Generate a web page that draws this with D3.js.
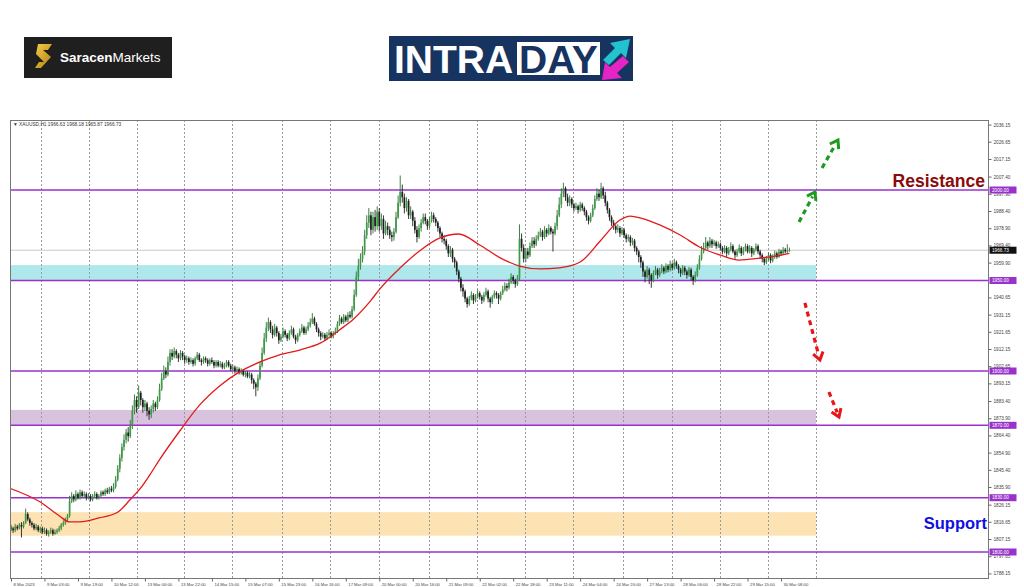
<!DOCTYPE html>
<html><head><meta charset="utf-8">
<script src="https://cdn.jsdelivr.net/npm/d3@7"></script>
<style>html,body{margin:0;padding:0;background:#fff;}svg{display:block}</style>
</head><body>
<svg id="c" width="1024" height="587"></svg>
<script>
// ---------------- DATA (XAUUSD H1, bar index 0..372) ----------------
const opens = [
1813.5,1813,1812,1814,1813,1815,1814,1816,1821,1818,
1816,1815,1813,1814,1812,1813,1811,1812,1810,1811,
1812,1810,1811,1812,1813,1815,1816,1818,1820,1828,
1831,1829,1832,1830,1833,1831,1832,1830,1831,1829,
1831,1832,1830,1831,1833,1832,1834,1833,1835,1834,
1836,1840,1846,1852,1858,1862,1866,1864,1870,1878,
1884,1880,1888,1884,1880,1882,1878,1876,1879,1882,
1880,1884,1890,1896,1900,1898,1905,1910,1908,1911,
1909,1907,1910,1908,1906,1907,1905,1906,1904,1907,
1909,1906,1905,1907,1906,1904,1906,1905,1903,1905,
1903,1904,1902,1903,1905,1903,1901,1902,1900,1901,
1899,1900,1898,1899,1897,1898,1895,1893,1891,1896,
1903,1910,1918,1924,1927,1923,1920,1924,1921,1917,
1919,1922,1920,1918,1921,1923,1919,1917,1920,1922,
1924,1921,1923,1925,1927,1929,1926,1923,1921,1919,
1920,1918,1920,1921,1919,1921,1922,1926,1929,1927,
1930,1928,1931,1930,1934,1942,1952,1958,1962,1966,
1975,1982,1986,1978,1985,1980,1988,1980,1984,1976,
1980,1978,1975,1974,1977,1985,1993,1999,1996,1990,
1994,1986,1988,1983,1978,1974,1979,1982,1985,1983,
1980,1983,1986,1984,1982,1979,1976,1973,1972,1969,
1965,1967,1962,1960,1955,1951,1946,1944,1940,1937,
1940,1942,1939,1941,1943,1941,1939,1942,1944,1940,
1938,1941,1943,1942,1940,1943,1945,1947,1946,1949,
1952,1950,1948,1951,1973,1968,1962,1966,1964,1969,
1972,1970,1973,1975,1977,1974,1978,1976,1979,1977,
1976,1980,1986,1992,1998,2001,1996,1993,1995,1992,
1990,1991,1989,1992,1990,1988,1985,1983,1986,1990,
1995,1998,1996,2001,1997,1993,1989,1985,1982,1980,
1978,1979,1976,1978,1975,1973,1974,1971,1972,1968,
1966,1963,1960,1955,1952,1956,1953,1950,1954,1956,
1953,1955,1957,1955,1958,1956,1959,1957,1960,1958,
1956,1954,1957,1955,1953,1956,1952,1950,1953,1957,
1962,1966,1968,1971,1969,1972,1970,1971,1969,1970,
1968,1966,1968,1965,1967,1969,1966,1964,1966,1968,
1965,1967,1969,1966,1968,1965,1967,1969,1966,1964,
1962,1960,1962,1964,1961,1963,1965,1963,1966,1965,
1967,1966,1966.63];
const highs = [
1815,1814,1815.5,1815,1816,1816.5,1817,1824,1822,1819,
1817,1816,1815.5,1815,1814,1814,1813.5,1813,1812,1813.5,
1813,1812.5,1813,1814.5,1816,1817.5,1819,1821,1831,1833,
1832,1834,1833,1834.5,1834,1833.5,1833,1832.5,1832,1832,
1833.5,1833,1832,1834,1834,1835,1835.5,1836,1836.5,1838,
1842,1848,1854,1860,1865,1868,1869,1873,1881,1887,
1886,1892,1889,1885,1884,1883,1880,1881,1884,1883,
1886,1893,1899,1903,1902,1908,1912,1912,1913,1912,
1910,1911.5,1911,1909,1908.5,1908,1907.5,1907,1908,1910.5,
1910,1907,1908,1908,1907,1907,1907.5,1906,1906,1906,
1905.5,1905,1904.5,1906,1906,1904,1903.5,1903,1902.5,1902,
1901.5,1901,1900,1900,1899.5,1899,1896,1894,1898,1905,
1913,1921,1927,1929.5,1928,1925,1926,1925,1922,1920.5,
1924,1923,1921,1922.5,1925,1924,1920,1921,1923.5,1926,
1925,1924.5,1927,1929,1932,1930,1927,1924,1922,1921.5,
1921,1921.5,1923,1922,1922,1924,1927.5,1931,1930,1931.5,
1931,1932.5,1933,1936,1945,1955,1962,1965,1969,1978,
1986,1990,1988,1988,1989,1991,1990,1987,1986,1983,
1982,1980,1977,1979,1988,1997,2008,2003,1998,1996,
1995,1991,1989,1985,1980,1981,1984,1987,1987,1984,
1985,1988,1987.5,1985,1983,1980,1977,1975,1973,1970,
1969,1968,1963,1961,1956,1952,1948,1945,1941,1941.5,
1944,1943,1942.5,1945,1944,1942,1943.5,1946,1945,1941,
1942,1944.5,1944,1943,1944,1947,1949,1948.5,1951,1954,
1953,1951,1953,1981,1976,1970,1968,1968,1971,1974,
1974,1975,1977,1979,1978,1980,1979,1981,1980,1978.5,
1982,1989,1996,2001,2004,2002,1998,1997,1996,1993,
1993,1992,1993.5,1993,1991,1989,1986,1987.5,1992,1997,
2001,2000,2004,2002,1999,1994,1990,1986,1983.5,1981,
1981,1980,1979.5,1979,1976,1975.5,1975,1973.5,1973,1969,
1967,1964,1961,1956,1958,1957,1954,1955.5,1958,1957,
1957,1959,1958,1959.5,1959,1961,1960,1962,1961,1959,
1957,1958.5,1958,1956,1957.5,1957,1953,1955,1959,1964,
1969,1971,1974,1972,1974,1973,1972.5,1972,1971.5,1971,
1969,1969.5,1969,1968.5,1971,1970,1967,1967.5,1970,1969,
1968.5,1970.5,1970,1969.5,1969,1968,1970.5,1970,1967,1965,
1963,1963.5,1965.5,1965,1964.5,1966.5,1966,1967.5,1967,1968.5,
1968,1970,1968.18];
const lows = [
1811.5,1810.5,1811,1812,1812.5,1808,1813,1815.5,1817,1814.5,
1813.5,1812,1812,1811,1810.5,1810,1810,1809,1808.5,1810,
1809,1809.5,1810,1811,1812,1814,1815,1817,1819,1827,
1827.5,1828,1829,1829,1830,1830,1828.5,1829,1828,1828,
1830,1829,1829,1830,1831,1831,1832,1832,1833,1833,
1835,1839,1844,1850,1856,1860,1861,1863,1868,1876,
1877,1879,1881,1877,1878,1875,1873,1874,1877,1878,
1879,1883,1889,1895,1896,1897,1903,1906,1907,1907,
1905,1906,1906,1904,1904.5,1903.5,1904,1902.5,1903,1906,
1905,1903,1904,1904.5,1902.5,1903,1904,1901.5,1902,1902,
1902,1901,1901,1902,1902,1900,1900,1898.5,1899,1898,
1898,1897,1896.5,1896,1896,1893,1890,1886,1889,1895,
1902,1909,1916,1922,1921,1918,1919,1919,1915,1916,
1918,1918.5,1916.5,1917,1920,1918,1915,1916,1919,1921,
1920,1920,1922,1924,1926,1925,1921.5,1919,1917,1918,
1916.5,1917,1919,1918,1918,1920,1921,1925,1926,1926,
1927,1927,1929,1929,1933,1941,1950,1956,1960,1964,
1973,1979,1975,1976,1977,1978,1977,1978,1973,1975,
1975,1973,1971.5,1972,1976,1984,1991,1993,1987,1988,
1984,1984,1980,1976,1971,1973,1977,1981,1981,1978,
1979,1982,1982,1980,1977,1974,1971,1970,1967,1963,
1963,1960,1957,1953,1949,1944,1941,1938,1935,1936,
1939,1937,1938,1940,1939.5,1937,1938,1941,1938,1935,
1937,1940,1940,1937,1939,1942,1944,1944,1945,1948,
1948,1946,1947,1950,1966,1960,1960,1962,1963,1968,
1968,1969,1972,1974,1972,1973,1974,1975,1975.5,1966,
1975,1978,1985,1990,1996,1994,1991,1991,1990,1988,
1989,1987,1988,1988.5,1986,1983,1981,1982,1985,1989,
1994,1994,1995,1995,1991,1987,1983,1980,1978,1976,
1976.5,1974,1975,1973.5,1971,1971.5,1969,1969.5,1966,1964,
1960,1957,1952,1949,1951,1948,1946,1949,1953,1951,
1952,1954,1953.5,1954,1954.5,1955,1955.5,1956,1956.5,1954,
1952,1953,1953,1951,1952,1950,1947.5,1949,1952,1956,
1961,1965,1967,1967,1968,1968,1969,1967.5,1968,1966.5,
1964.5,1965,1963,1964,1966,1965,1962,1963,1965,1963.5,
1964,1966,1965,1965,1963,1964,1966,1964.5,1962,1960,
1958.5,1959,1961,1959.5,1960,1962,1962,1962.5,1963.5,1964,
1965,1965,1965.87];
const closes = [
1813,1812,1814,1813,1815,1814,1816,1821,1818,1816,
1815,1813,1814,1812,1813,1811,1812,1810,1811,1812,
1810,1811,1812,1813,1815,1816,1818,1820,1828,1831,
1829,1832,1830,1833,1831,1832,1830,1831,1829,1831,
1832,1830,1831,1833,1832,1834,1833,1835,1834,1836,
1840,1846,1852,1858,1862,1866,1864,1870,1878,1884,
1880,1888,1884,1880,1882,1878,1876,1879,1882,1880,
1884,1890,1896,1900,1898,1905,1910,1908,1911,1909,
1907,1910,1908,1906,1907,1905,1906,1904,1907,1909,
1906,1905,1907,1906,1904,1906,1905,1903,1905,1903,
1904,1902,1903,1905,1903,1901,1902,1900,1901,1899,
1900,1898,1899,1897,1898,1895,1893,1891,1896,1903,
1910,1918,1924,1927,1923,1920,1924,1921,1917,1919,
1922,1920,1918,1921,1923,1919,1917,1920,1922,1924,
1921,1923,1925,1927,1929,1926,1923,1921,1919,1920,
1918,1920,1921,1919,1921,1922,1926,1929,1927,1930,
1928,1931,1930,1934,1942,1952,1958,1962,1966,1975,
1982,1986,1978,1985,1980,1988,1980,1984,1976,1980,
1978,1975,1974,1977,1985,1993,1999,1996,1990,1994,
1986,1988,1983,1978,1974,1979,1982,1985,1983,1980,
1983,1986,1984,1982,1979,1976,1973,1972,1969,1965,
1967,1962,1960,1955,1951,1946,1944,1940,1937,1940,
1942,1939,1941,1943,1941,1939,1942,1944,1940,1938,
1941,1943,1942,1940,1943,1945,1947,1946,1949,1952,
1950,1948,1951,1973,1968,1962,1966,1964,1969,1972,
1970,1973,1975,1977,1974,1978,1976,1979,1977,1976,
1980,1986,1992,1998,2001,1996,1993,1995,1992,1990,
1991,1989,1992,1990,1988,1985,1983,1986,1990,1995,
1998,1996,2001,1997,1993,1989,1985,1982,1980,1978,
1979,1976,1978,1975,1973,1974,1971,1972,1968,1966,
1963,1960,1955,1952,1956,1953,1950,1954,1956,1953,
1955,1957,1955,1958,1956,1959,1957,1960,1958,1956,
1954,1957,1955,1953,1956,1952,1950,1953,1957,1962,
1966,1968,1971,1969,1972,1970,1971,1969,1970,1968,
1966,1968,1965,1967,1969,1966,1964,1966,1968,1965,
1967,1969,1966,1968,1965,1967,1969,1966,1964,1962,
1960,1962,1964,1961,1963,1965,1963,1966,1965,1967,
1966,1966.63,1966.73];

// moving average samples: bar index and value
const maBars = [-1,14,23,28,33,42,51,57,62,66,71,81,90,100,109,119,128,138,148,157,164,172,176,186,196,205,214,224,234,243,253,262,272,282,291,296,301,310,320,329,339,348,358,368,372];
const maVals = [1835.4,1827.6,1820,1816.6,1816.6,1818.8,1822,1829,1835.4,1842,1851,1867.4,1881,1892,1899.4,1905,1908.8,1911.6,1915.5,1922.7,1929,1939,1945,1957,1967,1973.5,1975.7,1969.6,1962.4,1958,1956.4,1957,1960.2,1972.4,1983.4,1985.6,1984.5,1980.7,1975,1968.5,1964,1961.3,1962.4,1964,1965];

const timeLabels = ["8 Mar 2023","9 Mar 03:00","9 Mar 19:00","10 Mar 12:00","13 Mar 06:00","13 Mar 22:00","14 Mar 15:00","15 Mar 07:00","15 Mar 23:00","16 Mar 16:00","17 Mar 09:00","20 Mar 00:00","20 Mar 16:00","21 Mar 09:00","22 Mar 02:00","22 Mar 18:00","23 Mar 11:00","24 Mar 04:00","24 Mar 20:00","27 Mar 13:00","28 Mar 06:00","28 Mar 22:00","29 Mar 15:00","30 Mar 08:00"];
const timeLabelBars = [0,16,32,48,64,80,96,112,128,144,160,176,192,208,224,240,256,272,288,304,320,336,352,368];
const daySeparatorBars = [14.3,37.3,60.2,82.7,105.6,129.5,152.5,175.9,199.8,222.7,245.6,268.6,292.5,315.9,338.8,361.7,384.7];
const priceTicks = [2036.15,2026.65,2017.15,2007.40,1997.90,1988.40,1978.90,1969.40,1959.90,1940.65,1931.15,1921.65,1912.15,1902.65,1893.15,1883.40,1873.90,1864.40,1854.90,1845.40,1835.90,1826.15,1816.65,1807.15,1797.65,1788.15];
const levelLines = [2000,1950,1900,1870,1830,1800];
const zoneLow = [1950,1870,1809];
const zoneHigh = [1958.5,1878.5,1822];
const zoneColors = ["#aee8ea","#d9c2dd","#fde2b4"];
const zoneEndBar = 384.7;
const lastPrice = 1966.73;
const header = "\u25BC XAUUSD,H1  1966.63 1968.18 1965.87 1966.73";
// annotation arrows: start bar, start price, end bar, end price
const arrowStartBar = [376.6,387.6,379.4,390.9];
const arrowStartPrice = [1982.3,2012.2,1937.6,1888.4];
const arrowEndBar = [384.2,395.2,386.6,395.7];
const arrowEndPrice = [1998.9,2027.6,1906.1,1874.6];
const arrowColors = ["#1e9a1e","#1e9a1e","#e8141a","#e8141a"];

// ---------------- CHART ----------------
const svg = d3.select("#c");
const defs = svg.append("defs");
const P = {l:10, r:988, t:120, b:578};
const x = d3.scaleLinear().domain([0,372]).range([11, 11+372*2.0925]);
const y = d3.scaleLinear().domain([1800,2000]).range([552,190]);

defs.append("clipPath").attr("id","pc")
  .append("rect").attr("x",P.l).attr("y",P.t).attr("width",P.r-P.l).attr("height",P.b-P.t);
const g = svg.append("g").attr("clip-path","url(#pc)");

// zones
g.selectAll("rect.zone").data(zoneLow).join("rect").attr("class","zone")
  .attr("x",P.l).attr("width",x(zoneEndBar)-P.l)
  .attr("y",(d,i)=>y(zoneHigh[i])).attr("height",(d,i)=>y(d)-y(zoneHigh[i]))
  .attr("fill",(d,i)=>zoneColors[i]);

// day separators (dotted)
g.selectAll("line.sep").data(daySeparatorBars).join("line").attr("class","sep")
  .attr("x1",d=>Math.round(x(d))+0.5).attr("x2",d=>Math.round(x(d))+0.5)
  .attr("y1",P.t).attr("y2",P.b)
  .attr("stroke","#9a9a9a").attr("stroke-width",1).attr("stroke-dasharray","2,2");

// current price line
g.append("line").attr("x1",P.l).attr("x2",P.r).attr("y1",y(lastPrice)).attr("y2",y(lastPrice))
  .attr("stroke","#c8c8c8").attr("stroke-width",1);

// level lines
g.selectAll("line.lvl").data(levelLines).join("line").attr("class","lvl")
  .attr("x1",P.l).attr("x2",P.r).attr("y1",d=>y(d)).attr("y2",d=>y(d))
  .attr("stroke","#9932cc").attr("stroke-width",1.6);

// candles
const bars = closes.map((c,i)=>({i, o:opens[i], h:highs[i], l:lows[i], c}));
const cg = g.append("g");
cg.selectAll("line.wick").data(bars).join("line").attr("class","wick")
  .attr("x1",d=>x(d.i)).attr("x2",d=>x(d.i)).attr("y1",d=>y(d.h)).attr("y2",d=>y(d.l))
  .attr("stroke",d=>d.c>=d.o?"#2c6e33":"#222").attr("stroke-width",0.9);
cg.selectAll("rect.body").data(bars).join("rect").attr("class","body")
  .attr("x",d=>x(d.i)-0.85).attr("width",1.7)
  .attr("y",d=>y(Math.max(d.o,d.c)))
  .attr("height",d=>Math.max(0.8,y(Math.min(d.o,d.c))-y(Math.max(d.o,d.c))))
  .attr("fill",d=>d.c>=d.o?"#3f9a48":"#1e1e1e");

// moving average
g.append("path").datum(maBars.map((b,i)=>[b,maVals[i]]))
  .attr("d",d3.line().x(d=>x(d[0])).y(d=>y(d[1])).curve(d3.curveMonotoneX))
  .attr("fill","none").attr("stroke","#e31a1c").attr("stroke-width",1.3);

// arrows
arrowStartBar.forEach((b,k)=>{
  const x0=x(b),y0=y(arrowStartPrice[k]),x1=x(arrowEndBar[k]),y1=y(arrowEndPrice[k]);
  const ang=Math.atan2(y1-y0,x1-x0), L=Math.hypot(x1-x0,y1-y0), col=arrowColors[k];
  svg.append("line").attr("x1",x0).attr("y1",y0)
    .attr("x2",x0+(L-5)*Math.cos(ang)).attr("y2",y0+(L-5)*Math.sin(ang))
    .attr("stroke",col).attr("stroke-width",3.2).attr("stroke-dasharray","5,4");
  const hl=9, sp=0.6;
  const p1=[x1-hl*Math.cos(ang-sp), y1-hl*Math.sin(ang-sp)];
  const p2=[x1-hl*Math.cos(ang+sp), y1-hl*Math.sin(ang+sp)];
  svg.append("path").attr("d",`M${p1}L${x1},${y1}L${p2}`)
    .attr("fill","none").attr("stroke",col).attr("stroke-width",3);
});

// frame
svg.append("rect").attr("x",P.l+0.5).attr("y",P.t+0.5).attr("width",P.r-P.l).attr("height",P.b-P.t)
  .attr("fill","none").attr("stroke","#777").attr("stroke-width",1);

// price axis
const ya = d3.axisRight(y).tickValues(priceTicks).tickFormat(d3.format(".2f")).tickSize(3).tickPadding(2);
const yag = svg.append("g").attr("transform",`translate(${P.r+0.5},0)`).call(ya);
yag.select(".domain").remove();
yag.selectAll("line").attr("stroke","#666");
yag.selectAll("text").attr("font-family","Liberation Sans, Arial").attr("font-size",4.7).attr("fill","#444");

// time axis
const xa = d3.axisBottom(x).tickValues(timeLabelBars).tickFormat((d,i)=>timeLabels[i]).tickSize(3).tickPadding(1.5);
const xag = svg.append("g").attr("transform",`translate(0,${P.b+0.5})`).call(xa);
xag.select(".domain").remove();
xag.selectAll("line").attr("stroke","#666");
xag.selectAll("text").attr("font-family","Liberation Sans, Arial").attr("font-size",4.2).attr("fill","#444")
  .attr("text-anchor","start").attr("dx",2);

// axis price boxes
const boxVals = levelLines.concat([lastPrice]);
boxVals.forEach((v,k)=>{
  const yy=y(v), isLast = v===lastPrice;
  svg.append("rect").attr("x",P.r+1.5).attr("y",yy-3.5).attr("width",27).attr("height",7)
    .attr("fill",isLast?"#111":"#9932cc");
  svg.append("text").attr("x",P.r+4).attr("y",yy+1.7).attr("font-family","Liberation Sans, Arial")
    .attr("font-size",4.7).attr("fill","#fff").text(d3.format(".2f")(v));
});

// header
svg.append("text").attr("x",P.l+3).attr("y",P.t+5.5).attr("font-family","Liberation Sans, Arial").attr("font-size",4.8)
  .attr("fill","#333").text(header);

// Resistance / Support labels
svg.append("text").attr("x",985).attr("y",187).attr("text-anchor","end")
  .attr("font-family","Liberation Sans, Arial").attr("font-weight","bold").attr("font-size",17.5)
  .attr("fill","#8b0a0a").text("Resistance");
svg.append("text").attr("x",987).attr("y",529).attr("text-anchor","end")
  .attr("font-family","Liberation Sans, Arial").attr("font-weight","bold").attr("font-size",16.5)
  .attr("fill","#1010e0").text("Support");

// ---------------- LOGOS ----------------
const lg = svg.append("g");
lg.append("rect").attr("x",24).attr("y",37).attr("width",148).attr("height",41).attr("fill","#1f1f1f");
const gd = defs.append("linearGradient").attr("id","gold").attr("x1","0").attr("y1","0").attr("x2","1").attr("y2","1");
gd.append("stop").attr("offset","0").attr("stop-color","#f7d04a");
gd.append("stop").attr("offset","1").attr("stop-color","#b27a12");
lg.append("path").attr("d","M38 44 L52 44 L48 50 L43 50 L51 57 L41 68 L35 68 L39 62 L44 62 L36 54 Z").attr("fill","url(#gold)");
const lt = lg.append("text").attr("x",60).attr("y",62).attr("font-family","Liberation Sans, Arial").attr("font-size",13.5).attr("fill","#fff");
lt.append("tspan").attr("font-weight","bold").text("Saracen");
lt.append("tspan").text("Markets");

const ig = svg.append("g");
ig.append("rect").attr("x",389).attr("y",36).attr("width",244).attr("height",45).attr("fill","#17335f");
ig.append("text").attr("x",394).attr("y",73).attr("font-family","Liberation Sans, Arial").attr("font-weight","bold")
  .attr("font-size",39).attr("fill","#fff").text("INTRA");
ig.append("rect").attr("x",517).attr("y",42).attr("width",83).attr("height",33).attr("fill","#fff");
ig.append("text").attr("x",519).attr("y",73).attr("font-family","Liberation Sans, Arial").attr("font-weight","bold")
  .attr("font-size",39).attr("fill","#17335f").text("DAY");
ig.append("path").attr("d","M603 60 L615 48 L610 43 L630 39 L626 58 L621 53 L609 65 Z").attr("fill","#22c3cf");
ig.append("path").attr("d","M629 62 L617 73 L622 78 L602 80 L605 62 L610 67 L623 56 Z").attr("fill","#e524c8");
</script>
</body></html>
